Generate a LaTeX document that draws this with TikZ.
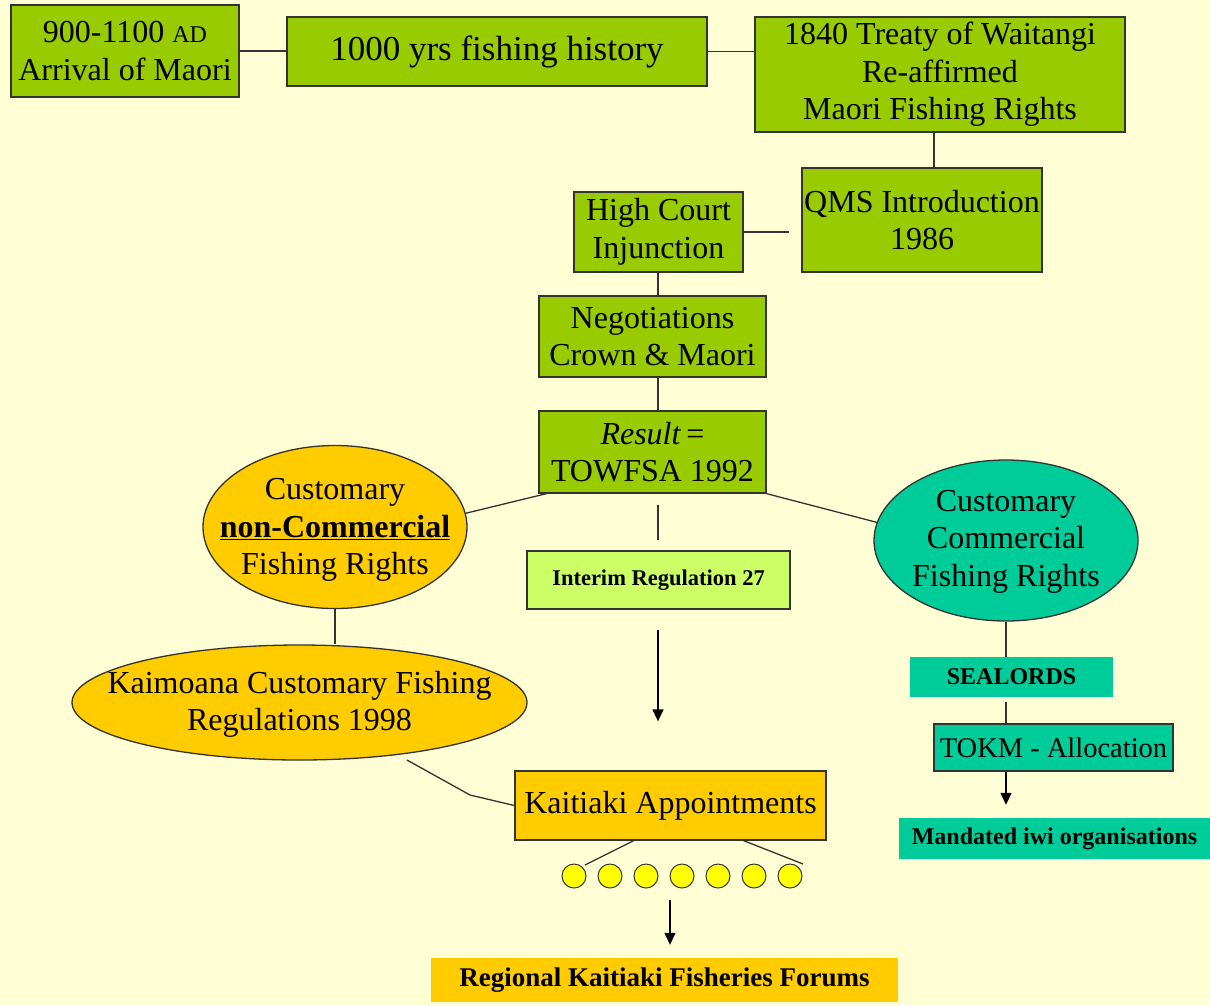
\documentclass[tikz,border=0pt]{standalone}
\usepackage{fontspec}
\setmainfont{Liberation Serif}
\usetikzlibrary{shapes.geometric,arrows.meta}
\definecolor{bg}{RGB}{255,255,213}
\definecolor{grn}{RGB}{153,204,0}
\definecolor{lgrn}{RGB}{204,255,102}
\definecolor{gold}{RGB}{255,204,0}
\definecolor{teal}{RGB}{0,204,153}
\definecolor{yel}{RGB}{255,255,0}
\definecolor{edge}{RGB}{51,51,51}
\tikzset{
  big/.style={font=\fontsize{32}{37.5}\selectfont},
  box/.style={draw=edge, line width=1.3pt, fill=grn, align=center, inner sep=0pt, big},
  oval/.style={ellipse, draw=edge, line width=1.3pt, inner sep=0pt},
  ovaltext/.style={align=center, inner sep=0pt, big},
  band/.style={inner sep=0pt, align=center, font=\bfseries\fontsize{24}{28}\selectfont},
  dot/.style={circle, draw=edge, line width=1pt, fill=yel, minimum size=24pt, inner sep=0pt},
  link/.style={draw=edge, line width=1.3pt},
  arr/.style={draw=black, line width=1.3pt, -{Triangle[width=11pt,length=12pt]}}
}
\begin{document}
\begin{tikzpicture}[x=1pt,y=-1pt]
\fill[bg] (0,0) rectangle (1210,1005);
\useasboundingbox (0,0) rectangle (1210,1005);

\node[box, minimum width=228pt, minimum height=92pt] (arrival) at (125,51) {900-1100 {\fontsize{24}{37}\selectfont AD}\\Arrival of Maori};
\node[box, minimum width=420pt, minimum height=69pt, font=\fontsize{35}{40}\selectfont] (history) at (497,51.5) {1000 yrs fishing history};
\node[box, minimum width=370pt, minimum height=115pt] (treaty) at (940,74.5) {1840 Treaty of Waitangi\\Re-affirmed\\Maori Fishing Rights};
\node[box, minimum width=240pt, minimum height=104pt] (qms) at (922,220) {QMS Introduction\\1986};
\node[box, minimum width=169pt, minimum height=80pt] (court) at (658.5,232) {High Court\\Injunction};
\node[box, minimum width=227pt, minimum height=81pt] (negot) at (652.5,336.5) {Negotiations\\Crown \& Maori};
\node[box, minimum width=227pt, minimum height=82pt] (result) at (652.5,452) {\textit{Result}\,=\\TOWFSA 1992};

\node[oval, fill=gold, minimum width=264pt, minimum height=163pt] (noncomm) at (335,527) {};
\node[ovaltext] (noncommtext) at ([yshift=-3pt]noncomm.center) {Customary\\\underline{\textbf{non-Commercial}}\\Fishing Rights};
\node[box, fill=lgrn, minimum width=263pt, minimum height=58pt, font=\bfseries\fontsize{22.5}{26}\selectfont] (interim) at (658.5,580) {Interim Regulation 27};
\node[oval, fill=teal, minimum width=264pt, minimum height=161pt] (comm) at (1006,540.5) {};
\node[ovaltext] (commtext) at ([yshift=-1pt]comm.center) {Customary\\Commercial\\Fishing Rights};
\node[oval, fill=gold, minimum width=455pt, minimum height=115pt] (kaimoana) at (299.5,702.5) {};
\node[ovaltext] (kaimoanatext) at ([yshift=-2pt]kaimoana.center) {Kaimoana Customary Fishing\\Regulations 1998};
\node[box, fill=gold, minimum width=311pt, minimum height=69pt] (kaitiaki) at (670.5,805.5) {Kaitiaki Appointments};

\foreach \i/\x in {1/574,2/610,3/646,4/682,5/718,6/754,7/790}
  \node[dot] (d\i) at (\x,876) {};

\node[band, fill=gold, minimum width=467pt, minimum height=44pt, font=\bfseries\fontsize{27}{30}\selectfont] (forums) at (664.5,980) {Regional Kaitiaki Fisheries Forums};
\node[band, fill=teal, minimum width=203pt, minimum height=40pt] (sealords) at (1011.5,677) {SEALORDS};
\node[box, fill=teal, minimum width=239pt, minimum height=47pt, font=\fontsize{28.5}{32}\selectfont] (tokm) at (1053.5,747.5) {TOKM - Allocation};
\node[band, fill=teal, minimum width=311pt, minimum height=41pt] (iwi) at (1054.5,838.5) {Mandated iwi organisations};

% connectors
\draw[link] (arrival.east) -- (arrival.east -| history.west);
\draw[link] (history.east) -- (history.east -| treaty.west);
\coordinate (tx) at (934,0);
\draw[link] (treaty.south -| tx) -- (qms.north -| tx);
\draw[link, shorten >=12pt] (court.east) -- (court.east -| qms.west);
\coordinate (mx) at (658,0);
\draw[link] (court.south -| mx) -- (negot.north -| mx);
\draw[link] (negot.south -| mx) -- (result.north -| mx);
\coordinate (rs1) at (549,493);
\draw[link] (rs1) -- (noncomm.6);
\draw[link] (result.south east) -- (comm.172);
\coordinate (r1) at (658,505);
\coordinate (r2) at (658,540);
\draw[link] (r1) -- (r2);
\coordinate (i1) at (658,630);
\draw[arr, shorten >=49pt] (i1) -- (kaitiaki.north -| i1);
\draw[link] (noncomm.south) -- (kaimoana.north -| noncomm.south);
\coordinate (k1) at (407,760);
\coordinate (k2) at (470,795);
\draw[link] (k1) -- (k2) -- (kaitiaki.west);
\coordinate (c1) at (635,840);
\coordinate (c2) at (742,840);
\coordinate (c3) at (585,865);
\coordinate (c4) at (803,864);
\draw[link] (c1) -- (c3);
\draw[link] (c2) -- (c4);
\coordinate (f1) at (670,900);
\draw[arr, shorten >=13pt] (f1) -- (forums.north -| f1);
\coordinate (sx) at (1006,0);
\draw[link] (comm.south) -- (sealords.north -| sx);
\coordinate (s1) at (1006,702);
\draw[link] (s1) -- (tokm.north -| sx);
\draw[arr, shorten >=13pt] (tokm.south -| sx) -- (iwi.north -| sx);
\end{tikzpicture}
\end{document}
